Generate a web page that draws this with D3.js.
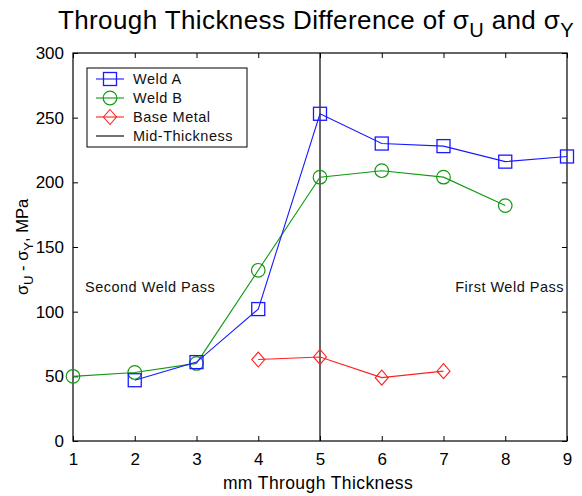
<!DOCTYPE html>
<html>
<head>
<meta charset="utf-8">
<script src="https://cdn.jsdelivr.net/npm/d3@7"></script>
<style>
  html, body { margin: 0; padding: 0; background: #fff; }
  svg { display: block; font-family: "Liberation Sans", Arial, sans-serif; }
</style>
</head>
<body>
<svg id="chart" width="582" height="496"></svg>
<script>
// Through-thickness measurements (mm) and sigma_U - sigma_Y (MPa)
const weldAx = [2, 3, 4, 5, 6, 7, 8, 9];
const weldAy = [47, 61, 102, 253, 230, 228, 216, 220];
const weldBx = [1, 2, 3, 4, 5, 6, 7, 8];
const weldBy = [50, 53, 60, 132, 204, 209, 204, 182];
const baseX = [4, 5, 6, 7];
const baseY = [63, 65, 49, 54];
const midThickness = 5;
const xTicks = [1, 2, 3, 4, 5, 6, 7, 8, 9];
const yTicks = [0, 50, 100, 150, 200, 250, 300];

const svg = d3.select("#chart");
const plotLeft = 73, plotRight = 567, plotTop = 53, plotBottom = 441;

const x = d3.scaleLinear().domain([1, 9]).range([plotLeft, plotRight]);
const y = d3.scaleLinear().domain([0, 300]).range([plotBottom, plotTop]);

const tickLen = 5;
const fontTick = "17px";

// Axes: ticks point inward, mirrored on top and right
const gx = svg.append("g").attr("transform", `translate(0,${plotBottom})`)
  .call(d3.axisBottom(x).tickValues(xTicks).tickSizeInner(-tickLen).tickSizeOuter(0).tickPadding(10).tickFormat(d3.format("d")));
const gxt = svg.append("g").attr("transform", `translate(0,${plotTop})`)
  .call(d3.axisTop(x).tickValues(xTicks).tickSizeInner(-tickLen).tickSizeOuter(0).tickFormat(""));
const gy = svg.append("g").attr("transform", `translate(${plotLeft},0)`)
  .call(d3.axisLeft(y).tickValues(yTicks).tickSizeInner(-tickLen).tickSizeOuter(0).tickPadding(9).tickFormat(d3.format("d")));
const gyr = svg.append("g").attr("transform", `translate(${plotRight},0)`)
  .call(d3.axisRight(y).tickValues(yTicks).tickSizeInner(-tickLen).tickSizeOuter(0).tickFormat(""));

[gx, gxt, gy, gyr].forEach(g => {
  g.select(".domain").remove();
  g.selectAll("line").attr("stroke", "#000").attr("stroke-width", 1);
  g.selectAll("text").attr("fill", "#000").style("font-size", fontTick)
    .style("font-family", "'Liberation Sans', Arial, sans-serif");
});
gx.selectAll("text").attr("dy", "0.8em");

// Plot frame
svg.append("rect").attr("x", plotLeft).attr("y", plotTop)
  .attr("width", plotRight - plotLeft).attr("height", plotBottom - plotTop)
  .attr("fill", "none").attr("stroke", "#000").attr("stroke-width", 1.2);

// Mid-thickness reference line
svg.append("line")
  .attr("x1", x(midThickness)).attr("x2", x(midThickness))
  .attr("y1", y(0)).attr("y2", y(300))
  .attr("stroke", "#000").attr("stroke-width", 1.2);

const line = d3.line().x(d => x(d[0])).y(d => y(d[1]));

function series(xs, ys, color, marker) {
  const pts = xs.map((v, i) => [v, ys[i]]);
  svg.append("path").datum(pts).attr("d", line)
    .attr("fill", "none").attr("stroke", color).attr("stroke-width", 1.1);
  const g = svg.append("g");
  pts.forEach(p => drawMarker(g, x(p[0]), y(p[1]), color, marker));
}

function drawMarker(g, cx, cy, color, marker) {
  if (marker === "square") {
    g.append("rect").attr("x", cx - 6.5).attr("y", cy - 6.5)
      .attr("width", 13).attr("height", 13)
      .attr("fill", "none").attr("stroke", color).attr("stroke-width", 1.3);
  } else if (marker === "circle") {
    g.append("circle").attr("cx", cx).attr("cy", cy).attr("r", 6.8)
      .attr("fill", "none").attr("stroke", color).attr("stroke-width", 1.2);
  } else if (marker === "diamond") {
    g.append("path")
      .attr("d", `M${cx},${cy - 7.5}L${cx + 6.5},${cy}L${cx},${cy + 7.5}L${cx - 6.5},${cy}Z`)
      .attr("fill", "none").attr("stroke", color).attr("stroke-width", 1.1);
  }
}

series(weldBx, weldBy, "#119911", "circle");
series(weldAx, weldAy, "#1a1aff", "square");
series(baseX, baseY, "#ff2020", "diamond");

// Region annotations
const noteStyle = s => s.style("font-size", "14.5px").style("letter-spacing", "0.5px").attr("fill", "#111");
noteStyle(svg.append("text").attr("x", 85).attr("y", 292).text("Second Weld Pass"));
noteStyle(svg.append("text").attr("x", 564).attr("y", 292).attr("text-anchor", "end").text("First Weld Pass"));

// Legend
const legend = svg.append("g");
legend.append("rect").attr("x", 87).attr("y", 68).attr("width", 160).attr("height", 79)
  .attr("fill", "#fff").attr("stroke", "#000").attr("stroke-width", 1);
const legendItems = [
  { label: "Weld A", color: "#1a1aff", marker: "square" },
  { label: "Weld B", color: "#119911", marker: "circle" },
  { label: "Base Metal", color: "#ff2020", marker: "diamond" },
  { label: "Mid-Thickness", color: "#000", marker: null }
];
legendItems.forEach((it, i) => {
  const ly = 79 + i * 19;
  legend.append("line").attr("x1", 96).attr("x2", 124).attr("y1", ly).attr("y2", ly)
    .attr("stroke", it.color).attr("stroke-width", 1.1);
  if (it.marker) drawMarker(legend, 110, ly, it.color, it.marker);
  noteStyle(legend.append("text").attr("x", 133).attr("y", ly + 5).text(it.label));
});

// Title with subscripted sigmas
const title = svg.append("text").attr("x", 316).attr("y", 29).attr("text-anchor", "middle")
  .style("font-size", "26px").style("letter-spacing", "0.4px").attr("fill", "#000");
title.append("tspan").text("Through Thickness Difference of σ");
title.append("tspan").text("U").attr("dy", 8).style("font-size", "20px");
title.append("tspan").text(" and σ").attr("dy", -8);
title.append("tspan").text("Y").attr("dy", 8).style("font-size", "20px");

// Axis titles
svg.append("text").attr("x", 318).attr("y", 489).attr("text-anchor", "middle")
  .text("mm Through Thickness").style("font-size", "17.5px").style("letter-spacing", "0.4px").attr("fill", "#000");

const ylab = svg.append("text").attr("transform", "translate(28,247) rotate(-90)")
  .attr("text-anchor", "middle").style("font-size", "16.5px").attr("fill", "#000");
ylab.append("tspan").text("σ");
ylab.append("tspan").text("U").attr("dy", 5).style("font-size", "13px");
ylab.append("tspan").text(" - σ").attr("dy", -5);
ylab.append("tspan").text("Y").attr("dy", 5).style("font-size", "13px");
ylab.append("tspan").text(", MPa").attr("dy", -5);
</script>
</body>
</html>
